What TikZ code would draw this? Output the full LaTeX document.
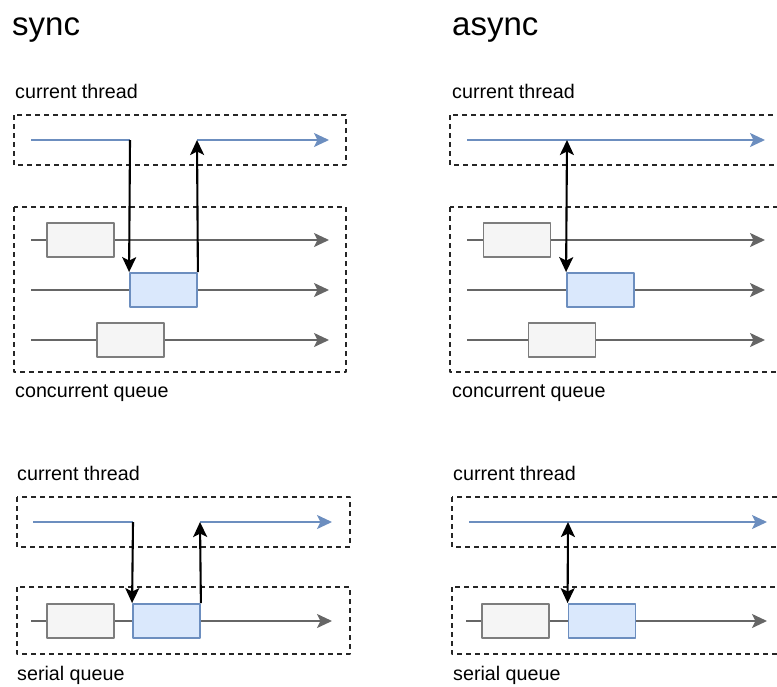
\documentclass[tikz,border=0pt]{standalone}
\usepackage{fontspec}
\setmainfont{Liberation Sans}
\usetikzlibrary{arrows.meta}
\definecolor{linkblue}{HTML}{6C8EBF}
\definecolor{taskblue}{HTML}{DAE8FC}
\definecolor{taskgray}{HTML}{F5F5F5}
\definecolor{lanegray}{HTML}{666666}
\begin{document}
\begin{tikzpicture}[x=1pt, y=-1pt, line join=round,
        >={Stealth[length=15pt, width=14pt, inset=3.5pt]},
        groupbox/.style={draw=black!85, line width=1.6pt, dash pattern=on 5pt off 4pt},
        lane/.style={draw=lanegray, line width=1.9pt, ->},
        thread/.style={draw=linkblue, line width=1.9pt},
        call/.style={draw=black, line width=2.1pt},
        job/.style={draw=lanegray!85, fill=taskgray, line width=1.8pt,
            minimum width=67pt, minimum height=34pt, inner sep=0pt},
        cur/.style={job, draw=linkblue, fill=taskblue},
        txt/.style={font=\fontsize{19.7}{22}\selectfont, anchor=base west, inner sep=0pt},
        head/.style={font=\fontsize{33}{38}\selectfont, anchor=base west, inner sep=0pt}]
    \useasboundingbox (0,0) rectangle (777,686);
    \clip (0,0) rectangle (777,686);
    % sync, concurrent queue
    \begin{scope}[shift={(14,0)}]
        \node[head] (sT) at (-2,35) {sync};
        \node[txt] (sTh) at (1,98) {current thread};
        \draw[groupbox] (0,115) rectangle (332,165);
        \draw[groupbox] (0,207) rectangle (332,372);
        \node[txt] (sQ) at (1,397) {concurrent queue};
        \foreach \y in {240,290,340}
            \draw[lane] (17,\y) -- (315,\y);
        \node[job] (s1) at (66.5,240) {};
        \node[cur] (s2) at (149.5,290) {};
        \node[job] (s3) at (116.5,340) {};
        \coordinate (s0) at (17,140);
        \coordinate (sa) at (116,140);
        \coordinate (sb) at (183,140);
        \coordinate (se) at (315,140);
        \draw[thread] (s0) -- (sa);
        \draw[thread,->] (sb) -- (se);
        \draw[call,->] (sa) -- (s2.north west);
        \draw[call,->] (s2.north east) -- (sb);
    \end{scope}
    % async, concurrent queue
    \begin{scope}[shift={(450,0)}]
        \node[head] (aT) at (2,35) {async};
        \node[txt] (aTh) at (2,98) {current thread};
        \draw[groupbox] (0,115) rectangle (332,165);
        \draw[groupbox] (0,207) rectangle (332,372);
        \node[txt] (aQ) at (2,397) {concurrent queue};
        \foreach \y in {240,290,340}
            \draw[lane] (17,\y) -- (315,\y);
        \node[job] (a1) at (67,240) {};
        \node[cur] (a2) at (150.5,290) {};
        \node[job] (a3) at (112,340) {};
        \coordinate (a0) at (17,140);
        \coordinate (aa) at (117,140);
        \coordinate (ae) at (315,140);
        \draw[thread,->] (a0) -- (ae);
        \draw[call,<->] (aa) -- (a2.north west);
    \end{scope}
    % sync, serial queue
    \begin{scope}[shift={(17,0)}]
        \node[txt] (sTh2) at (0,480) {current thread};
        \draw[groupbox] (0,497) rectangle (333,547);
        \draw[groupbox] (0,587) rectangle (333,654);
        \node[txt] (sQ2) at (0,680.5) {serial queue};
        \draw[lane] (14,621) -- (315,621);
        \node[job] (s4) at (63.5,621) {};
        \node[cur] (s5) at (149.5,621) {};
        \coordinate (s6) at (16,522);
        \coordinate (sc) at (116,522);
        \coordinate (sd) at (183,522);
        \coordinate (sf) at (315,522);
        \draw[thread] (s6) -- (sc);
        \draw[thread,->] (sd) -- (sf);
        \draw[call,->] (sc) -- (s5.north west);
        \draw[call,->] (s5.north east) -- (sd);
    \end{scope}
    % async, serial queue
    \begin{scope}[shift={(452,0)}]
        \node[txt] (aTh2) at (1,480) {current thread};
        \draw[groupbox] (0,497) rectangle (333,547);
        \draw[groupbox] (0,587) rectangle (333,654);
        \node[txt] (aQ2) at (1,680.5) {serial queue};
        \draw[lane] (14,621) -- (315,621);
        \node[job] (a4) at (63.5,621) {};
        \node[cur] (a5) at (150,621) {};
        \coordinate (a6) at (17,522);
        \coordinate (ac) at (116,522);
        \coordinate (af) at (315,522);
        \draw[thread,->] (a6) -- (af);
        \draw[call,<->] (ac) -- (a5.north west);
    \end{scope}
\end{tikzpicture}
\end{document}
